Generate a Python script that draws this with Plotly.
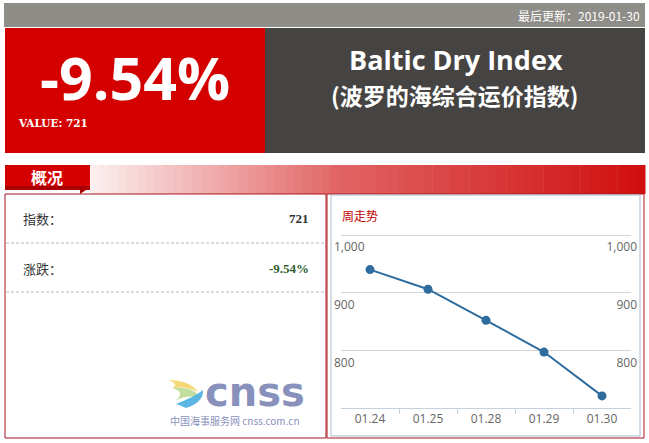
import plotly.graph_objects as go

W, H = 649, 443

# ---- data ----
dates = ["01.24", "01.25", "01.28", "01.29", "01.30"]
bdi_values = [940, 906, 852, 797, 721]
y_ticks = [800, 900, 1000]
index_value = 721
change_pct = -9.54
update_date = "2019-01-30"


def X(px):
    return px / W


def Y(py):
    return 1 - py / H


shapes = []
annotations = []


def rect(x0, y0, x1, y1, fill, line=None, lw=0, layer="below"):
    shapes.append(dict(type="rect", xref="paper", yref="paper",
                       x0=X(x0), x1=X(x1), y0=Y(y1), y1=Y(y0),
                       fillcolor=fill, line=dict(color=line or fill, width=lw),
                       layer=layer))


def text(x, y, s, size, color, family, xanchor="center", bold=False):
    annotations.append(dict(xref="paper", yref="paper", x=X(x), y=Y(y),
                            text=("<b>%s</b>" % s) if bold else s,
                            showarrow=False, xanchor=xanchor, yanchor="middle",
                            font=dict(size=size, color=color, family=family),
                            borderpad=0))


# top gray bar
rect(4, 3, 645, 27, "#8f8d88")
text(641, 15, "最后更新：" + update_date, 12, "#ffffff",
     "Noto Sans CJK SC", xanchor="right")

# red & dark boxes
rect(5, 28, 265, 153, "#d40000")
rect(265, 28, 645, 153, "#464442")
text(135, 77, "%.2f%%" % change_pct, 59, "#ffffff", "Open Sans", bold=True)
text(17, 123, "VALUE: %d" % index_value, 10.5, "#ffffff", "DejaVu Serif",
     xanchor="left", bold=True)
text(456, 60, "Baltic Dry Index", 27, "#ffffff", "Open Sans", bold=True)
text(454, 95, "(波罗的海综合运价指数)", 23, "#ffffff", "Noto Sans CJK SC", bold=True)

# header gradient strip
n = 60
x_start, x_end = 90, 645
c0 = (252, 238, 238)
c1 = (226, 100, 100)
c2 = (208, 16, 16)
for i in range(n):
    xa = x_start + (x_end - x_start) * i / n
    xb = x_start + (x_end - x_start) * (i + 1) / n + 0.5
    t = i / (n - 1)
    if t < 0.45:
        u = t / 0.45
        c = [int(c0[k] + (c1[k] - c0[k]) * u) for k in range(3)]
    else:
        u = (t - 0.45) / 0.55
        c = [int(c1[k] + (c2[k] - c1[k]) * u) for k in range(3)]
    rect(xa, 165, xb, 194, "rgb(%d,%d,%d)" % tuple(c))
rect(5, 165, 90, 186, "#d40000")
rect(5, 186, 90, 190, "#a80000")
shapes.append(dict(type="path", xref="paper", yref="paper",
                   path="M %f %f L %f %f L %f %f Z" % (X(80), Y(190), X(86), Y(190), X(80), Y(194)),
                   fillcolor="#a80000", line=dict(width=0)))
text(47, 177, "概况", 16, "#ffffff", "Noto Sans CJK SC", bold=True)

# left and right boxes
rect(5, 194, 326, 438, "rgba(0,0,0,0)", line="#a8141c", lw=1)
rect(327, 194, 644, 438, "rgba(0,0,0,0)", line="#a8141c", lw=1)

# left panel content
text(22, 218, "指数：", 13, "#333333", "Noto Sans CJK SC", xanchor="left")
text(310, 218, str(index_value), 13, "#333333", "Liberation Serif", xanchor="right", bold=True)
text(22, 268, "涨跌：", 13, "#333333", "Noto Sans CJK SC", xanchor="left")
text(310, 268, "%.2f%%" % change_pct, 13, "#2f5f2f", "Liberation Serif", xanchor="right", bold=True)
for yy in (243, 292):
    shapes.append(dict(type="line", xref="paper", yref="paper",
                       x0=X(6), x1=X(325), y0=Y(yy), y1=Y(yy),
                       line=dict(color="#b8b8b8", width=1, dash="3px,2px")))

# logo
swoosh = [("#f4d56a", "M 168 380 Q 190 380 198 392 Q 186 386 172 388 Q 180 384 168 380 Z"),
          ("#b9dc94", "M 172 388 Q 194 386 200 398 Q 188 394 176 400 Q 186 392 172 388 Z"),
          ("#4aaee0", "M 176 404 Q 196 396 203 390 Q 204 402 186 408 Q 182 406 176 404 Z")]
for col, p in swoosh:
    parts = p.split()
    out = []
    i = 0
    while i < len(parts):
        tok = parts[i]
        if tok in ("M", "L", "Q", "Z"):
            out.append(tok)
            i += 1
        else:
            out.append("%f,%f" % (X(float(parts[i])), Y(float(parts[i + 1]))))
            i += 2
    shapes.append(dict(type="path", xref="paper", yref="paper", path=" ".join(out),
                       fillcolor=col, line=dict(width=0), opacity=0.9))
text(255, 392, "cnss", 40, "#8891bb", "DejaVu Sans", bold=True)
text(235, 420, "中国海事服务网 cnss.com.cn", 10, "#8891bb", "Noto Sans CJK SC")

# chart box
shapes.append(dict(type="rect", xref="paper", yref="paper",
                   x0=X(331), x1=X(640), y0=Y(436), y1=Y(195),
                   fillcolor="rgba(0,0,0,0)", line=dict(color="#a9bccd", width=1),
                   layer="below"))
text(341, 215, "周走势", 12, "#c00000", "Noto Sans CJK SC", xanchor="left")

fig = go.Figure()
fig.add_trace(go.Scatter(x=dates, y=bdi_values, mode="lines+markers",
                         line=dict(color="#2e6c9e", width=2),
                         marker=dict(color="#2e6c9e", size=9),
                         hoverinfo="x+y", showlegend=False))
fig.add_trace(go.Scatter(x=dates, y=bdi_values, yaxis="y2", mode="none",
                         hoverinfo="skip", showlegend=False))

# plot area: y=700 at px 408, y=1000 at px 235
ppu = (408 - 235) / 300.0
top_px = 225
y_top = 1000 + (235 - top_px) / ppu

tickfont = dict(size=12, color="#666666", family="Open Sans")
fig.update_layout(
    width=W, height=H,
    margin=dict(l=0, r=0, t=0, b=0),
    paper_bgcolor="#ffffff", plot_bgcolor="rgba(0,0,0,0)",
    shapes=shapes, annotations=annotations,
    xaxis=dict(domain=[X(341), X(631)], type="category", range=[-0.5, 4.5],
               showline=True, linecolor="#c4d0dc", linewidth=1,
               ticks="outside", tickson="boundaries", ticklen=5, tickcolor="#c4d0dc",
               showgrid=False, tickfont=tickfont, fixedrange=True),
    yaxis=dict(domain=[Y(408), Y(top_px)], range=[700, y_top], tickvals=y_ticks,
               tickformat=",d", showgrid=True, gridcolor="#d4d4d4", gridwidth=1,
               zeroline=False, showline=False, ticks="",
               ticklabelposition="inside", ticklabelshift=12, ticklabelstandoff=-10,
               tickfont=tickfont, fixedrange=True),
    yaxis2=dict(overlaying="y", side="right", anchor="x", range=[700, y_top],
                tickvals=y_ticks, tickformat=",d", showgrid=False, zeroline=False,
                showline=False, ticks="", ticklabelposition="inside",
                ticklabelshift=12, ticklabelstandoff=-9,
                tickfont=tickfont, fixedrange=True),
)

fig.write_html("out.html", config={"displayModeBar": False},
               post_script="document.body.style.margin='0px';document.body.style.overflow='hidden';")
